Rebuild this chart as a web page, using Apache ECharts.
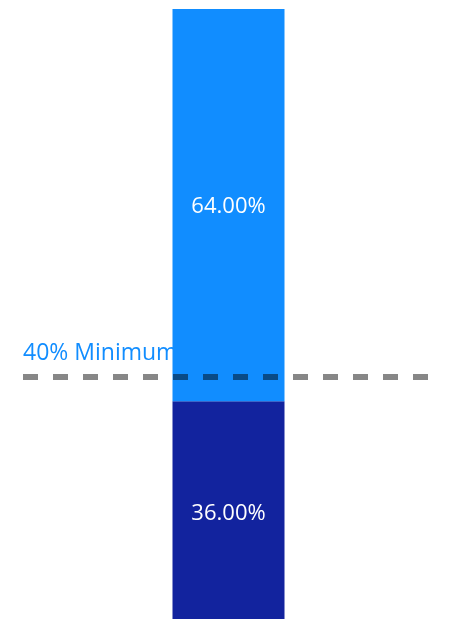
<!DOCTYPE html>
<html><head><meta charset="utf-8">
<script src="https://cdn.jsdelivr.net/npm/echarts@6/dist/echarts.min.js"></script>
<style>html,body{margin:0;padding:0;background:#fff}#c{width:459px;height:619px}</style>
</head><body><div id="c"></div>
<script>
const categories = ["Share"];
const lowerValues = [36];
const upperValues = [64];
const thresholdValue = 40;
const thresholdLabel = "40% Minimum";

const chart = echarts.init(document.getElementById('c'));
const font = "'Segoe UI', 'Open Sans', sans-serif";
chart.setOption({
  animation: false,
  grid: [
    {left: 26, right: 28, top: 9, bottom: -3, outerBoundsMode: 'none', containLabel: false},
    {left: 23, right: 31, top: 9, bottom: -3, outerBoundsMode: 'none', containLabel: false}
  ],
  xAxis: [
    {type: 'category', data: categories, show: false, gridIndex: 0},
    {type: 'category', data: categories, show: false, gridIndex: 1}
  ],
  yAxis: [
    {type: 'value', min: 0, max: 100, show: false, gridIndex: 0},
    {type: 'value', min: 0, max: 100, show: false, gridIndex: 1}
  ],
  series: [
    {
      type: 'line', data: [], z: 1, xAxisIndex: 1, yAxisIndex: 1,
      markLine: {
        silent: true, symbol: 'none', z: 1,
        lineStyle: {color: 'rgba(0,0,0,0)', width: 0},
        label: {show: true, position: 'insideStartTop', formatter: thresholdLabel, color: '#118DFF',
          fontSize: 23, fontFamily: font, distance: [0, 12]},
        data: [{yAxis: thresholdValue}]
      }
    },
    {
      type: 'bar', stack: 's', data: lowerValues, barWidth: 112, z: 3,
      itemStyle: {color: '#12239E'},
      label: {show: true, position: 'inside', offset: [0, 2], color: '#fff', fontSize: 22, fontFamily: font,
        formatter: p => p.value.toFixed(2) + '%'}
    },
    {
      type: 'bar', stack: 's', data: upperValues, barWidth: 112, z: 3,
      itemStyle: {color: '#118DFF'},
      label: {show: true, position: 'inside', offset: [0, 2], color: '#fff', fontSize: 22, fontFamily: font,
        formatter: p => p.value.toFixed(2) + '%'}
    },
    {
      type: 'line', data: [], z: 10, xAxisIndex: 1, yAxisIndex: 1,
      markLine: {
        silent: true, symbol: 'none', z: 10,
        lineStyle: {color: 'rgba(0,0,0,0.47)', width: 6, type: [15, 15]},
        label: {show: false},
        data: [{yAxis: thresholdValue}]
      }
    }
  ]
});
</script></body></html>
